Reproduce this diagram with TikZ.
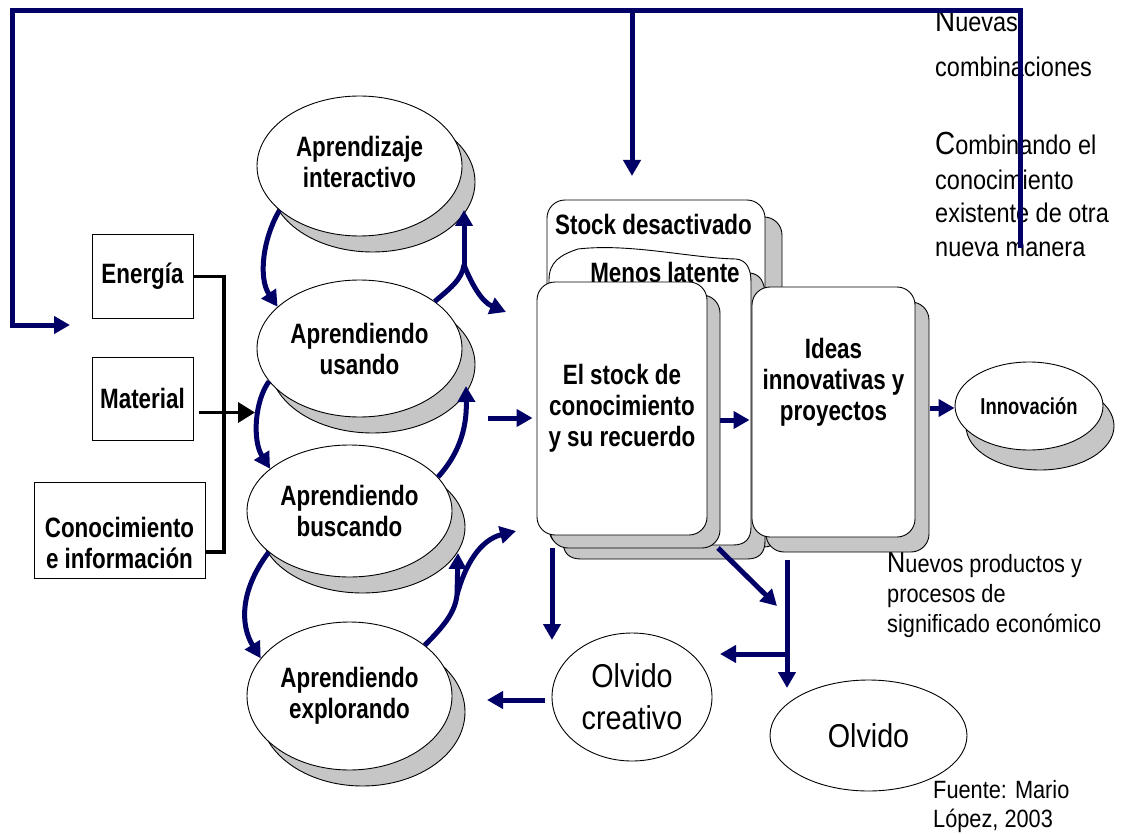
\documentclass[tikz,border=0pt]{standalone}
\usepackage{fontspec}
\setmainfont{Liberation Sans}[FakeStretch=0.87]
\newfontfamily\lblfont{Liberation Sans}[FakeStretch=0.8]
\usetikzlibrary{shapes.geometric,arrows.meta,shadows,calc}
\definecolor{navyc}{RGB}{0,0,102}
\definecolor{shadefill}{RGB}{198,198,198}
\begin{document}
\begin{tikzpicture}[x=1pt,y=-1pt,
  lbl/.style={font=\lblfont\fontsize{28}{31}\selectfont\bfseries, align=center, inner sep=0pt},
  reg/.style={font=\fontsize{27}{34}\selectfont, inner sep=0pt, anchor=base west},
  regs/.style={font=\fontsize{25}{30}\selectfont, inner sep=0pt, anchor=base west},
  ell/.style={ellipse, draw=black, line width=0.9pt, fill=white, inner sep=0pt, align=center},
  dsh/.style 2 args={drop shadow={shadow xshift=#1pt, shadow yshift=-#2pt, opacity=1, fill=shadefill, draw=black, line width=0.9pt}},
  rbox/.style={rectangle, rounded corners=18pt, draw=black, line width=0.9pt, fill=white},
  sbox/.style={rectangle, draw=black, line width=1pt, fill=white},
  nline/.style={draw=navyc, line width=5pt},
  arr/.style={nline, -{Triangle[length=16pt,width=17pt]}},
  blk/.style={draw=black, line width=3.5pt},
]
\useasboundingbox (0,0) rectangle (1121,834);

% ---------- right-hand texts ----------
\node[reg] (r1) at (935,32) {{\fontsize{32}{34}\selectfont N}uevas};
\node[reg] (r2) at (935,77) {combinaciones};
\node[reg] (r3) at (935,155) {{\fontsize{32}{34}\selectfont C}ombinando el};
\node[reg] (r4) at (935,190) {conocimiento};
\node[reg] (r5) at (935,223) {existente de otra};
\node[reg] (r6) at (935,257) {nueva manera};

\node[regs] (b1) at (887,572) {{\fontsize{29}{30}\selectfont N}uevos productos y};
\node[regs] (b2) at (887,602) {procesos de};
\node[regs] (b3) at (887,632) {significado económico};
\node[regs] (f1) at (933,798) {Fuente: Mario};
\node[regs] (f2) at (933,827) {López, 2003};

% ---------- left input boxes ----------
\node[sbox, minimum width=101pt, minimum height=83pt, lbl] (en) at (142.5,276.5) {Energía};
\node[sbox, minimum width=101pt, minimum height=83pt, lbl] (ma) at (142.5,398.5) {Material};
\node[sbox, minimum width=171pt, minimum height=96pt] (co) at (119.5,530) {};
\node[lbl] (cot) at (119.5,543) {Conocimiento\\e información};

% ---------- learning ellipses ----------
\node[ell, dsh={13}{16}, minimum width=205pt, minimum height=140pt, lbl] (ai) at (359.5,166) {\raisebox{8pt}{\shortstack{Aprendizaje\\[2pt]interactivo}}};
\node[ell, dsh={13}{16}, minimum width=205pt, minimum height=137pt, lbl] (au) at (359.5,348.5) {Aprendiendo\\usando};
\node[ell, dsh={13}{16}, minimum width=205pt, minimum height=132pt, lbl] (ab) at (349.5,511) {Aprendiendo\\buscando};
\node[ell, dsh={13}{16}, minimum width=205pt, minimum height=148pt, lbl] (ae) at (349.5,696) {Aprendiendo\\explorando};

% ---------- stacked stock boxes ----------
\node[rbox, dsh={17}{17}, minimum width=218pt, minimum height=330pt] (bA) at (656,365) {};
\node[lbl, anchor=base] (tA) at (653.5,235) {Stock desactivado};
\begin{scope}[shift={(14,14)}]
  \path[fill=shadefill, draw=black, line width=0.9pt]
    (549,527) -- (549,280) .. controls (549,262) and (560,255) .. (578,249)
    .. controls (630,243) and (690,258) .. (736,259)
    .. controls (746,260) and (751,268) .. (751,282) -- (751,527)
    .. controls (751,539) and (745,545) .. (733,545) -- (567,545)
    .. controls (555,545) and (549,539) .. (549,527) -- cycle;
\end{scope}
\path[fill=white, draw=black, line width=0.9pt]
    (549,527) -- (549,280) .. controls (549,262) and (560,255) .. (578,249)
    .. controls (630,243) and (690,258) .. (736,259)
    .. controls (746,260) and (751,268) .. (751,282) -- (751,527)
    .. controls (751,539) and (745,545) .. (733,545) -- (567,545)
    .. controls (555,545) and (549,539) .. (549,527) -- cycle;
\node[lbl, anchor=base] (tB) at (665,283) {Menos latente};
\node[rbox, dsh={13}{13}, minimum width=170pt, minimum height=253pt, lbl] (bC) at (622,408.5) {El stock de\\conocimiento\\y su recuerdo};

\node[rbox, dsh={14}{15}, minimum width=163pt, minimum height=250pt] (bI) at (833.5,412) {};
\node[lbl] (tI) at (833.5,382) {Ideas\\innovativas y\\proyectos};

% ---------- outcome ellipses ----------
\node[ell, dsh={11}{20}, minimum width=148pt, minimum height=88pt, font=\lblfont\fontsize{23}{26}\selectfont\bfseries] (nI) at (1029,406) {Innovación};
\node[ell, minimum width=160pt, minimum height=128pt, font=\fontsize{33}{42}\selectfont] (oc) at (632,697) {Olvido\\creativo};
\node[ell, minimum width=197pt, minimum height=111pt, font=\fontsize{33}{40}\selectfont] (ol) at (868.5,735.5) {Olvido};

% ---------- black input connectors ----------
\coordinate (cj) at (224,552);
\coordinate (mt) at (255,412.5);
\draw[blk, line join=miter] (en.east) -| (cj) -- (cj -| co.east);
\draw[blk, -{Triangle[length=17pt,width=20pt]}] ([xshift=5pt]ma.east |- mt) -- (mt);

% ---------- feedback line ----------
\coordinate (fb0) at (1020,248);
\coordinate (fbR) at (1020,11);
\coordinate (fbL) at (12,11);
\coordinate (fbD) at (12,325);
\coordinate (fbT) at (70,325);
\coordinate (fbM) at (632,11);
\coordinate (fbMT) at (632,176);
\draw[arr, line join=miter] (fb0) -- (fbR) -- (fbL) -- (fbD) -- (fbT);
\draw[arr] (fbM) -- (fbMT);

% ---------- curved learning arrows ----------
\coordinate (j1) at (464,265);
\coordinate (t1) at (464,210);
\coordinate (t2) at (506,312);
\coordinate (t4) at (466,386);
\coordinate (j2) at (457,595);
\coordinate (t6a) at (458,553);
\coordinate (t6b) at (516,531);
\draw[arr] (ai.209) .. controls (263,238) and (258,278) .. (au.153);
\draw[nline] (au.32) .. controls (448,290) and (462,280) .. (j1);
\draw[arr] (j1) -- (t1);
\draw[arr] (j1) .. controls (472,285) and (482,302) .. (t2);
\draw[arr] (au.200) .. controls (255,400) and (252,440) .. (ab.152);
\draw[arr] (ab.21) .. controls (458,455) and (467,430) .. (t4);
\draw[arr] (ab.207) .. controls (240,590) and (240,625) .. (ae.157);
\draw[nline] (ae.34) .. controls (445,625) and (455,612) .. (j2);
\draw[arr] (j2) -- (t6a);
\draw[arr] (j2) .. controls (465,565) and (480,540) .. (t6b);

% ---------- straight flow arrows ----------
\coordinate (s1) at (488,418);
\coordinate (s2) at (720,420);
\coordinate (s3) at (930,408);
\coordinate (s4) at (552,548);
\coordinate (s4t) at (552,640);
\coordinate (s5) at (718,548);
\coordinate (s5t) at (777,606);
\coordinate (s6) at (787,560);
\coordinate (s6t) at (787,688);
\coordinate (s7) at (787,654);
\coordinate (s7t) at (720,654);
\coordinate (s8) at (545,700);
\coordinate (s8t) at (487,700);
\draw[arr, shorten >=4pt] (s1) -- (s1 -| bC.west);
\draw[arr, shorten >=2pt] (s2) -- (s2 -| bI.west);
\draw[arr] (s3) -- (s3 -| nI.west);
\draw[arr] (s4) -- (s4t);
\draw[arr] (s5) -- (s5t);
\draw[arr] (s6) -- (s6t);
\draw[arr] (s7) -- (s7t);
\draw[arr] (s8) -- (s8t);
\end{tikzpicture}
\end{document}
